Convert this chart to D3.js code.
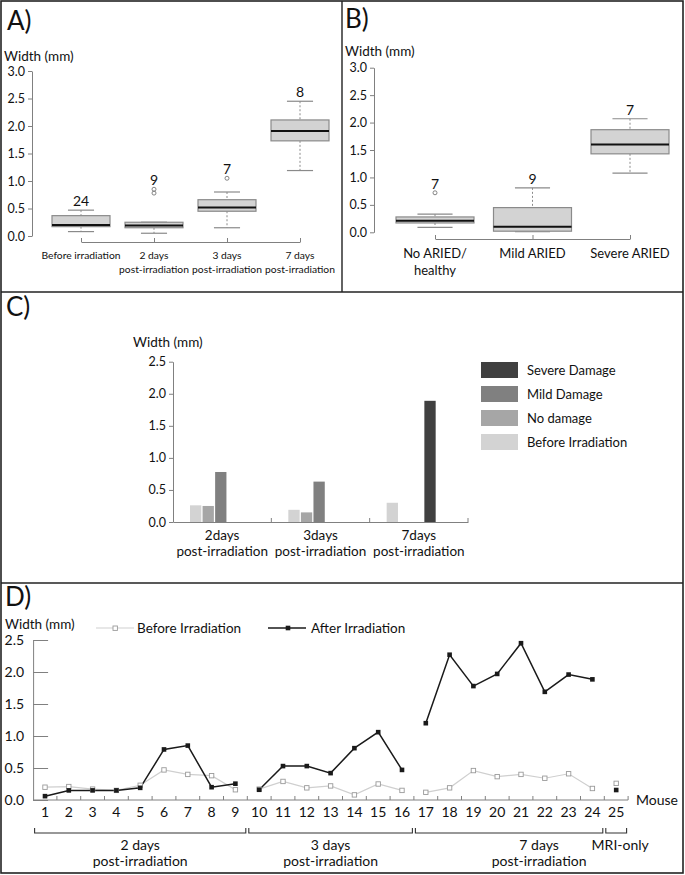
<!DOCTYPE html>
<html><head><meta charset="utf-8">
<script src="https://cdn.jsdelivr.net/npm/d3@7"></script>
<style>
html,body{margin:0;padding:0;background:#fff;}
svg{display:block;font-family:Lato,"Open Sans",sans-serif;}
</style></head>
<body>
<script>
// ---------------- DATA ----------------
// Panel A
const catsA = ["Before irradiation", "2 days|post-irradiation", "3 days|post-irradiation", "7 days|post-irradiation"];
const nA = [24, 9, 7, 8];
const lowA = [0.08, 0.05, 0.15, 1.19];
const q1A = [0.17, 0.15, 0.45, 1.73];
const medA = [0.20, 0.19, 0.52, 1.91];
const q3A = [0.37, 0.25, 0.66, 2.11];
const highA = [0.47, 0.25, 0.80, 2.45];
const outA = [[], [0.78, 0.85], [1.05], []];
const ticksAB = [0, 0.5, 1.0, 1.5, 2.0, 2.5, 3.0];

// Panel B
const catsB = ["No ARIED/|healthy", "Mild ARIED", "Severe ARIED"];
const nB = [7, 9, 7];
const lowB = [0.09, 0.01, 1.08];
const q1B = [0.17, 0.02, 1.43];
const medB = [0.21, 0.10, 1.60];
const q3B = [0.28, 0.45, 1.87];
const highB = [0.33, 0.81, 2.07];
const outB = [[0.72], [], []];

// Panel C
const catsC = ["2days|post-irradiation", "3days|post-irradiation", "7days|post-irradiation"];
const seriesC = ["Before Irradiation", "No damage", "Mild Damage", "Severe Damage"];
const beforeC = [0.26, 0.19, 0.30];
const noDamageC = [0.25, 0.15, null];
const mildC = [0.78, 0.63, null];
const severeC = [null, null, 1.89];
const ticksC = [0, 0.5, 1.0, 1.5, 2.0, 2.5];

// Panel D
const mice = [1,2,3,4,5,6,7,8,9,10,11,12,13,14,15,16,17,18,19,20,21,22,23,24,25];
const beforeD = [0.20,0.21,0.17,0.15,0.23,0.47,0.40,0.38,0.16, 0.17,0.29,0.19,0.22,0.08,0.25,0.15, 0.12,0.19,0.46,0.365,0.40,0.34,0.41,0.18, 0.26];
const afterD  = [0.06,0.15,0.15,0.15,0.19,0.79,0.85,0.20,0.255, 0.16,0.53,0.53,0.42,0.81,1.06,0.47, 1.20,2.27,1.78,1.97,2.45,1.69,1.96,1.885, 0.156];
const groupsD = ["2 days|post-irradiation", "3 days|post-irradiation", "7 days|post-irradiation", "MRI-only"];
const groupStartD = [1, 10, 17, 25];
const groupEndD = [9, 16, 24, 25];
const ticksD = [0, 0.5, 1.0, 1.5, 2.0, 2.5];

// ---------------- DRAW ----------------
const W = 685, H = 875;
const svg = d3.select("body").append("svg").attr("width", W).attr("height", H);
const AX = "#808080", BOXF = "#d3d3d3", BOXS = "#8a8a8a";
const fmt = d3.format(".1f");

function styleAxis(g) {
  g.selectAll(".domain").attr("stroke", AX).attr("stroke-width", 1);
  g.selectAll(".tick line").attr("stroke", AX);
  g.selectAll(".tick text").attr("fill", "#111").attr("font-family", "Lato");
}

function multiText(g, str, x, y, lh, size, anchor) {
  const t = g.append("text").attr("x", x).attr("y", y).attr("font-size", size)
    .attr("text-anchor", anchor || "middle").attr("fill", "#111");
  str.split("|").forEach((s, i) => {
    t.append("tspan").attr("x", x).attr("dy", i === 0 ? 0 : lh).text(s);
  });
  return t;
}

// Frame
svg.append("rect").attr("x", 1).attr("y", 1).attr("width", 682).attr("height", 872)
  .attr("fill", "none").attr("stroke", "#222").attr("stroke-width", 1.6);
svg.append("line").attr("x1", 342).attr("x2", 342).attr("y1", 1).attr("y2", 292).attr("stroke", "#222").attr("stroke-width", 1.4);
svg.append("line").attr("x1", 1).attr("x2", 683).attr("y1", 292).attr("y2", 292).attr("stroke", "#222").attr("stroke-width", 1.4);
svg.append("line").attr("x1", 1).attr("x2", 683).attr("y1", 583).attr("y2", 583).attr("stroke", "#222").attr("stroke-width", 1.4);

// Panel labels
[["A)", 7, 30], ["B)", 345, 28], ["C)", 6, 316], ["D)", 5, 606]].forEach(([t, x, y]) => {
  svg.append("text").attr("x", x).attr("y", y).attr("font-size", 26).attr("fill", "#111").text(t);
});

// ---------- Box plot helper ----------
function boxPanel(cfg) {
  const g = svg.append("g");
  const y = d3.scaleLinear().domain([0, 3]).range(cfg.yRange);
  const x = d3.scalePoint().domain(cfg.cats).range(cfg.xRange);
  // y axis
  const ya = g.append("g").attr("transform", `translate(${cfg.yAxisX},0)`)
    .call(d3.axisLeft(y).tickValues(ticksAB).tickFormat(fmt).tickSize(4).tickSizeOuter(0).tickPadding(3));
  ya.selectAll("text").attr("font-size", 12.5);
  styleAxis(ya);
  // x axis
  const xa = g.append("g").attr("transform", `translate(0,${cfg.xAxisY})`)
    .call(d3.axisBottom(x).tickSize(-4).tickSizeOuter(0).tickFormat(""));
  styleAxis(xa);
  cfg.cats.forEach((c, i) => {
    multiText(g, c, x(c), cfg.labelY, cfg.labelLH, cfg.labelSize);
  });
  g.append("text").attr("x", cfg.titleX).attr("y", cfg.titleY).attr("font-size", 13.5).attr("fill", "#111").text("Width (mm)");
  const bw = cfg.boxW, cw = bw * 0.45;
  cfg.cats.forEach((c, i) => {
    const cx = x(c);
    const bg = g.append("g");
    // whiskers
    bg.append("line").attr("x1", cx).attr("x2", cx).attr("y1", y(cfg.high[i])).attr("y2", y(cfg.q3[i]))
      .attr("stroke", BOXS).attr("stroke-dasharray", "2,2");
    bg.append("line").attr("x1", cx).attr("x2", cx).attr("y1", y(cfg.q1[i])).attr("y2", y(cfg.low[i]))
      .attr("stroke", BOXS).attr("stroke-dasharray", "2,2");
    bg.append("line").attr("x1", cx - cw / 2).attr("x2", cx + cw / 2).attr("y1", y(cfg.high[i])).attr("y2", y(cfg.high[i])).attr("stroke", BOXS).attr("stroke-width", 1.2);
    bg.append("line").attr("x1", cx - cw / 2).attr("x2", cx + cw / 2).attr("y1", y(cfg.low[i])).attr("y2", y(cfg.low[i])).attr("stroke", BOXS).attr("stroke-width", 1.2);
    bg.append("rect").attr("x", cx - bw / 2).attr("width", bw).attr("y", y(cfg.q3[i])).attr("height", y(cfg.q1[i]) - y(cfg.q3[i]))
      .attr("fill", BOXF).attr("stroke", BOXS).attr("stroke-width", 1.2);
    bg.append("line").attr("x1", cx - bw / 2).attr("x2", cx + bw / 2).attr("y1", y(cfg.med[i])).attr("y2", y(cfg.med[i]))
      .attr("stroke", "#111").attr("stroke-width", 2);
    cfg.out[i].forEach(o => {
      bg.append("circle").attr("cx", cx).attr("cy", y(o)).attr("r", 2).attr("fill", "none").attr("stroke", "#777").attr("stroke-width", 0.9);
    });
    const top = d3.max([cfg.high[i], ...cfg.out[i]]);
    bg.append("text").attr("x", cx).attr("y", y(top) - 4).attr("text-anchor", "middle").attr("font-size", 14).attr("fill", "#111").text(cfg.n[i]);
  });
}

boxPanel({cats: catsA, n: nA, low: lowA, q1: q1A, med: medA, q3: q3A, high: highA, out: outA,
  yRange: [236, 71], xRange: [81, 300], yAxisX: 32, xAxisY: 242, boxW: 58,
  labelY: 259, labelLH: 14, labelSize: 10.3, titleX: 4, titleY: 61});
boxPanel({cats: catsB, n: nB, low: lowB, q1: q1B, med: medB, q3: q3B, high: highB, out: outB,
  yRange: [232.3, 67.7], xRange: [435, 630], yAxisX: 374, xAxisY: 239, boxW: 78,
  labelY: 258, labelLH: 17, labelSize: 13, titleX: 345, titleY: 56});

// ---------- Panel C ----------
(function () {
  const g = svg.append("g");
  const y = d3.scaleLinear().domain([0, 2.5]).range([522, 361.7]);
  const x0 = d3.scaleBand().domain(catsC).range([173, 468]);
  const x1 = d3.scaleBand().domain(seriesC).range([17, 66]).paddingInner(0.1);
  const color = d3.scaleOrdinal().domain(seriesC).range(["#d3d3d3", "#a6a6a6", "#808080", "#404040"]);
  const vals = [beforeC, noDamageC, mildC, severeC];
  const ya = g.append("g").attr("transform", "translate(173,0)")
    .call(d3.axisLeft(y).tickValues(ticksC).tickFormat(fmt).tickSize(4).tickSizeOuter(0).tickPadding(3));
  ya.selectAll("text").attr("font-size", 12.5);
  styleAxis(ya);
  const xa = g.append("g").attr("transform", "translate(0,522)")
    .call(d3.axisBottom(x0).tickSize(0).tickSizeOuter(0).tickFormat(""));
  styleAxis(xa);
  g.selectAll(".bnd").data(catsC).join("line")
    .attr("x1", d => x0(d) + x0.bandwidth()).attr("x2", d => x0(d) + x0.bandwidth())
    .attr("y1", 522).attr("y2", 518).attr("stroke", AX);
  catsC.forEach((c, ci) => {
    seriesC.forEach((s, si) => {
      const v = vals[si][ci];
      if (v == null) return;
      g.append("rect").attr("x", x0(c) + x1(s)).attr("width", x1.bandwidth())
        .attr("y", y(v)).attr("height", y(0) - y(v)).attr("fill", color(s));
    });
    multiText(g, c, x0(c) + x0.bandwidth() / 2, 540, 16, 13.5);
  });
  g.append("text").attr("x", 133).attr("y", 347).attr("font-size", 13.5).attr("fill", "#111").text("Width (mm)");
  const leg = seriesC.slice().reverse();
  leg.forEach((s, i) => {
    g.append("rect").attr("x", 481).attr("y", 362 + i * 24).attr("width", 37).attr("height", 16).attr("fill", color(s));
    g.append("text").attr("x", 527).attr("y", 375 + i * 24).attr("font-size", 13).attr("fill", "#111").text(s);
  });
})();

// ---------- Panel D ----------
(function () {
  const g = svg.append("g");
  const y = d3.scaleLinear().domain([0, 2.5]).range([800, 640]);
  const x = d3.scaleLinear().domain([1, 25]).range([45, 616.2]);
  const step = x(2) - x(1);
  const ya = g.append("g").attr("transform", `translate(${x(0.5)},0)`)
    .call(d3.axisLeft(y).tickValues(ticksD).tickFormat(fmt).tickSize(-15).tickSizeOuter(0).tickPadding(9));
  ya.selectAll("text").attr("font-size", 14);
  styleAxis(ya);
  // x axis
  g.append("line").attr("x1", x(0.5)).attr("x2", x(25.5)).attr("y1", 800).attr("y2", 800).attr("stroke", AX);
  g.selectAll(".xt").data(mice).join("line")
    .attr("x1", d => x(d + 0.5)).attr("x2", d => x(d + 0.5)).attr("y1", 800).attr("y2", 796).attr("stroke", AX);
  g.selectAll(".xl").data(mice).join("text")
    .attr("x", d => x(d)).attr("y", 817).attr("text-anchor", "middle").attr("font-size", 14).attr("fill", "#111").text(d => d);
  g.append("text").attr("x", 636).attr("y", 805).attr("font-size", 14).attr("fill", "#111").text("Mouse");
  g.append("text").attr("x", 5).attr("y", 629).attr("font-size", 13.5).attr("fill", "#111").text("Width (mm)");

  const line = d3.line().x(d => x(d[0])).y(d => y(d[1]));
  groupsD.forEach((gr, gi) => {
    const ids = mice.filter(m => m >= groupStartD[gi] && m <= groupEndD[gi]);
    if (ids.length > 1) {
      g.append("path").attr("d", line(ids.map(m => [m, beforeD[m - 1]]))).attr("fill", "none").attr("stroke", "#cfcfcf").attr("stroke-width", 1.2);
      g.append("path").attr("d", line(ids.map(m => [m, afterD[m - 1]]))).attr("fill", "none").attr("stroke", "#1a1a1a").attr("stroke-width", 1.5);
    }
    // bracket
    const bx1 = x(groupStartD[gi] - 0.5) + 1.5, bx2 = x(groupEndD[gi] + 0.5) - 1.5;
    g.append("path").attr("d", `M${bx1},828V833H${bx2}V828`).attr("fill", "none").attr("stroke", "#333").attr("stroke-width", 1.1);
  });
  const labShift = [0, 0, 30, 4];
  groupsD.forEach((gr, gi) => {
    const cx = (x(groupStartD[gi] - 0.5) + x(groupEndD[gi] + 0.5)) / 2 + labShift[gi];
    multiText(g, gr, cx, 850, 16, 14);
  });
  // markers
  g.selectAll(".bm").data(mice).join("rect")
    .attr("x", d => x(d) - 2.2).attr("y", d => y(beforeD[d - 1]) - 2.2).attr("width", 4.4).attr("height", 4.4)
    .attr("fill", "#fff").attr("stroke", "#9a9a9a").attr("stroke-width", 0.9);
  g.selectAll(".am").data(mice).join("rect")
    .attr("x", d => x(d) - 2.3).attr("y", d => y(afterD[d - 1]) - 2.3).attr("width", 4.6).attr("height", 4.6)
    .attr("fill", "#1a1a1a");
  // legend
  g.append("line").attr("x1", 96).attr("x2", 134).attr("y1", 628).attr("y2", 628).attr("stroke", "#cfcfcf").attr("stroke-width", 1.2);
  g.append("rect").attr("x", 113).attr("y", 626).attr("width", 4.4).attr("height", 4.4).attr("fill", "#fff").attr("stroke", "#9a9a9a").attr("stroke-width", 0.9);
  g.append("text").attr("x", 137).attr("y", 633).attr("font-size", 13.5).attr("fill", "#111").text("Before Irradiation");
  g.append("line").attr("x1", 268).attr("x2", 306).attr("y1", 628).attr("y2", 628).attr("stroke", "#1a1a1a").attr("stroke-width", 1.5);
  g.append("rect").attr("x", 285.7).attr("y", 625.7).attr("width", 4.6).attr("height", 4.6).attr("fill", "#1a1a1a");
  g.append("text").attr("x", 311).attr("y", 633).attr("font-size", 13.5).attr("fill", "#111").text("After Irradiation");
})();
</script>
</body></html>
